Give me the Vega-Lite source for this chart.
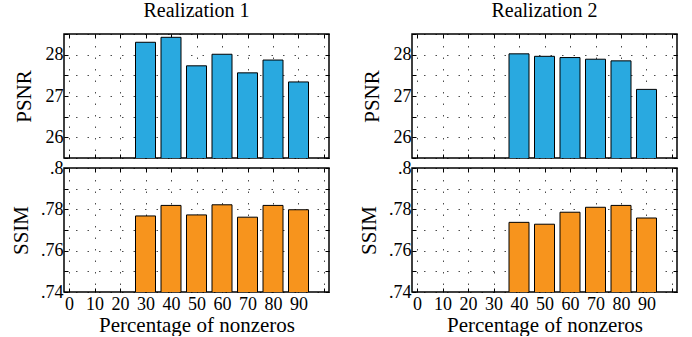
{
  "$schema": "https://vega.github.io/schema/vega-lite/v6.json",
  "datasets": {
    "r1": [
      {"pct": 30, "psnr": 28.30, "ssim": 0.7768},
      {"pct": 40, "psnr": 28.42, "ssim": 0.7819},
      {"pct": 50, "psnr": 27.73, "ssim": 0.7773},
      {"pct": 60, "psnr": 28.01, "ssim": 0.7822},
      {"pct": 70, "psnr": 27.56, "ssim": 0.7762},
      {"pct": 80, "psnr": 27.87, "ssim": 0.7819},
      {"pct": 90, "psnr": 27.34, "ssim": 0.7798}
    ],
    "r2": [
      {"pct": 40, "psnr": 28.02, "ssim": 0.7737},
      {"pct": 50, "psnr": 27.96, "ssim": 0.7728},
      {"pct": 60, "psnr": 27.93, "ssim": 0.7786},
      {"pct": 70, "psnr": 27.89, "ssim": 0.7810},
      {"pct": 80, "psnr": 27.85, "ssim": 0.7819},
      {"pct": 90, "psnr": 27.16, "ssim": 0.7758}
    ]
  },
  "padding": {"left": 9, "top": 0, "right": 10, "bottom": 0},
  "bounds": "flush",
  "columns": 2,
  "spacing": {"row": 10, "column": 83},
  "config": {
    "font": "Liberation Serif",
    "view": {"stroke": "#000", "strokeWidth": 1.5},
    "axis": {
      "labelFont": "Liberation Serif", "labelFontSize": 18, "labelColor": "#000",
      "titleFont": "Liberation Serif", "titleFontSize": 21, "titleFontWeight": "normal", "titleColor": "#000",
      "domain": false, "tickColor": "#000", "tickSize": -4, "tickWidth": 1,
      "gridColor": "#000", "gridDash": [1.5, 10], "gridOpacity": 0.7,
      "labelFlush": false, "labelOverlap": false, "labelBound": false, "labelPadding": 5
    },
    "title": {"font": "Liberation Serif", "fontSize": 20, "fontWeight": "normal", "color": "#000", "offset": 0}
  },
  "concat": [
    {
      "width": 265, "height": 124,
      "title": "Realization 1",
      "data": {"name": "r1"},
      "layer": [
        {
          "mark": {"type": "bar", "size": 20, "color": "#29a9e0", "stroke": "#000", "strokeWidth": 1, "clip": true},
          "encoding": {
            "x": {"field": "pct", "type": "quantitative", "scale": {"domain": [0, 100], "nice": false, "zero": false},
                  "axis": {"orient": "bottom", "values": [0,10,20,30,40,50,60,70,80,90,100], "labels": false, "title": null, "grid": true}},
            "y": {"field": "psnr", "type": "quantitative", "scale": {"domain": [25.5, 28.5], "nice": false, "zero": false},
                  "axis": {"values": [25.5,26,26.5,27,27.5,28,28.5], "labelExpr": "round(datum.value*2) % 2 === 0 ? format(datum.value, 'd') : ''", "title": "PSNR", "grid": true, "titlePadding": 11}}
          }
        },
        {
          "mark": {"type": "point", "opacity": 0},
          "encoding": {
            "x": {"field": "pct", "type": "quantitative", "axis": {"orient": "top", "values": [0,10,20,30,40,50,60,70,80,90,100], "labels": false, "title": null, "grid": false, "labelPadding": 0}},
            "y": {"field": "psnr", "type": "quantitative", "axis": {"orient": "right", "values": [25.5,26,26.5,27,27.5,28,28.5], "labels": false, "title": null, "grid": false}}
          }
        }
      ],
      "resolve": {"axis": {"x": "independent", "y": "independent"}}
    },
    {
      "width": 265, "height": 124,
      "title": "Realization 2",
      "data": {"name": "r2"},
      "layer": [
        {
          "mark": {"type": "bar", "size": 20, "color": "#29a9e0", "stroke": "#000", "strokeWidth": 1, "clip": true},
          "encoding": {
            "x": {"field": "pct", "type": "quantitative", "scale": {"domain": [0, 100], "nice": false, "zero": false},
                  "axis": {"orient": "bottom", "values": [0,10,20,30,40,50,60,70,80,90,100], "labels": false, "title": null, "grid": true}},
            "y": {"field": "psnr", "type": "quantitative", "scale": {"domain": [25.5, 28.5], "nice": false, "zero": false},
                  "axis": {"values": [25.5,26,26.5,27,27.5,28,28.5], "labelExpr": "round(datum.value*2) % 2 === 0 ? format(datum.value, 'd') : ''", "title": "PSNR", "grid": true, "titlePadding": 11}}
          }
        },
        {
          "mark": {"type": "point", "opacity": 0},
          "encoding": {
            "x": {"field": "pct", "type": "quantitative", "axis": {"orient": "top", "values": [0,10,20,30,40,50,60,70,80,90,100], "labels": false, "title": null, "grid": false, "labelPadding": 0}},
            "y": {"field": "psnr", "type": "quantitative", "axis": {"orient": "right", "values": [25.5,26,26.5,27,27.5,28,28.5], "labels": false, "title": null, "grid": false}}
          }
        }
      ],
      "resolve": {"axis": {"x": "independent", "y": "independent"}}
    },
    {
      "width": 265, "height": 124,
      "data": {"name": "r1"},
      "layer": [
        {
          "mark": {"type": "bar", "size": 20, "color": "#f7941d", "stroke": "#000", "strokeWidth": 1, "clip": true},
          "encoding": {
            "x": {"field": "pct", "type": "quantitative", "scale": {"domain": [0, 100], "nice": false, "zero": false},
                  "axis": {"orient": "bottom", "values": [0,10,20,30,40,50,60,70,80,90,100], "labelExpr": "datum.value < 100 ? datum.label : ''", "title": "Percentage of nonzeros", "grid": true, "titlePadding": 1, "labelPadding": 7}},
            "y": {"field": "ssim", "type": "quantitative", "scale": {"domain": [0.74, 0.8], "nice": false, "zero": false},
                  "axis": {"values": [0.74,0.75,0.76,0.77,0.78,0.79,0.8], "labelExpr": "round(datum.value*100) % 2 === 0 ? replace(format(datum.value, '.2~f'), '0.', '.') : ''", "title": "SSIM", "grid": true, "titlePadding": 9}}
          }
        },
        {
          "mark": {"type": "point", "opacity": 0},
          "encoding": {
            "x": {"field": "pct", "type": "quantitative", "axis": {"orient": "top", "values": [0,10,20,30,40,50,60,70,80,90,100], "labels": false, "title": null, "grid": false}},
            "y": {"field": "ssim", "type": "quantitative", "axis": {"orient": "right", "values": [0.74,0.75,0.76,0.77,0.78,0.79,0.8], "labels": false, "title": null, "grid": false}}
          }
        }
      ],
      "resolve": {"axis": {"x": "independent", "y": "independent"}}
    },
    {
      "width": 265, "height": 124,
      "data": {"name": "r2"},
      "layer": [
        {
          "mark": {"type": "bar", "size": 20, "color": "#f7941d", "stroke": "#000", "strokeWidth": 1, "clip": true},
          "encoding": {
            "x": {"field": "pct", "type": "quantitative", "scale": {"domain": [0, 100], "nice": false, "zero": false},
                  "axis": {"orient": "bottom", "values": [0,10,20,30,40,50,60,70,80,90,100], "labelExpr": "datum.value < 100 ? datum.label : ''", "title": "Percentage of nonzeros", "grid": true, "titlePadding": 1, "labelPadding": 7}},
            "y": {"field": "ssim", "type": "quantitative", "scale": {"domain": [0.74, 0.8], "nice": false, "zero": false},
                  "axis": {"values": [0.74,0.75,0.76,0.77,0.78,0.79,0.8], "labelExpr": "round(datum.value*100) % 2 === 0 ? replace(format(datum.value, '.2~f'), '0.', '.') : ''", "title": "SSIM", "grid": true, "titlePadding": 9}}
          }
        },
        {
          "mark": {"type": "point", "opacity": 0},
          "encoding": {
            "x": {"field": "pct", "type": "quantitative", "axis": {"orient": "top", "values": [0,10,20,30,40,50,60,70,80,90,100], "labels": false, "title": null, "grid": false}},
            "y": {"field": "ssim", "type": "quantitative", "axis": {"orient": "right", "values": [0.74,0.75,0.76,0.77,0.78,0.79,0.8], "labels": false, "title": null, "grid": false}}
          }
        }
      ],
      "resolve": {"axis": {"x": "independent", "y": "independent"}}
    }
  ]
}
